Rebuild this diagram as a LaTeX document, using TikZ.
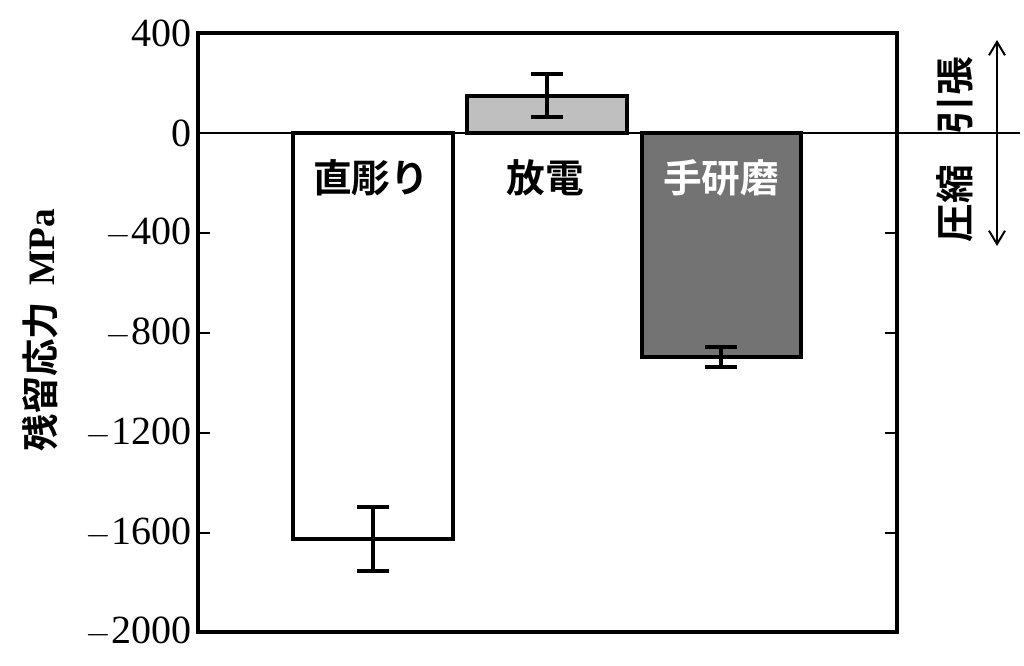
\documentclass[tikz,border=0pt]{standalone}
\usepackage{fontspec}
\setmainfont{Liberation Serif}
\newfontfamily\jpfont{Noto Sans CJK JP}[BoldFont={* Bold}]
\usetikzlibrary{arrows.meta}
\tikzset{
  barbox/.style={draw, line width=2.4pt},
  errbar/.style={line width=2.4pt},
  ticklabel/.style={anchor=east, inner sep=0pt, font=\fontsize{30}{30}\selectfont},
  jplabel/.style={font=\jpfont\bfseries\fontsize{29}{29}\selectfont, inner sep=0pt}
}
\begin{document}
\begin{tikzpicture}[x=0.75pt,y=0.75pt,yscale=-1]
  \useasboundingbox (0,0) rectangle (1024,666);
  % bars
  \draw[barbox, fill=white] (293,133) rectangle (453,539);
  \draw[barbox, fill=black!25] (467,96) rectangle (627,133);
  \draw[barbox, fill=black!55] (642,133) rectangle (801,357);
  % error bars
  \foreach \x/\ya/\yb in {373/507/571, 547/74/117, 721/347/367} {
    \draw[errbar] (\x,\ya) -- (\x,\yb);
    \draw[errbar] (\x-16,\ya) -- (\x+16,\ya);
    \draw[errbar] (\x-16,\yb) -- (\x+16,\yb);
  }
  % frame, zero line and ticks
  \draw[line width=3pt] (198,33) rectangle (897,632);
  \draw[line width=2.2pt] (198,133) -- (1020,133);
  \foreach \y in {233,333,433,533} {
    \draw[line width=2pt] (198,\y) -- (210,\y);
    \draw[line width=2pt] (897,\y) -- (885,\y);
  }
  % tick labels
  \foreach \y/\v in {33/400, 133/0, 233/$-$400, 333/$-$800, 433/$-$1200, 533/$-$1600, 632/$-$2000}
    \node[ticklabel] (t\y) at (192,\y) {\v};
  % bar labels
  \node[jplabel] (l1) at (371,178) {直彫り};
  \node[jplabel] (l2) at (545,178) {放電};
  \node[jplabel, text=white] (l3) at (721,178) {手研磨};
  % axis title
  \node[rotate=90, inner sep=0pt] (ytitle) at (40,330)
    {{\jpfont\bfseries\fontsize{28}{28}\selectfont 残留応力}\hspace{1.2em}{\fontsize{28}{28}\selectfont\bfseries MPa}};
  % right side
  \node[jplabel, rotate=90] (tens) at (955,96) {引張};
  \node[jplabel, rotate=90] (comp) at (955,204) {圧縮};
  \coordinate (mid) at (997,133);
  \coordinate (up) at (997,40);
  \coordinate (down) at (997,246);
  \draw[line width=1.5pt, -{Straight Barb[length=10pt,width=12pt]}] (mid) -- (up);
  \draw[line width=1.5pt, -{Straight Barb[length=10pt,width=12pt]}] (mid) -- (down);
\end{tikzpicture}
\end{document}
